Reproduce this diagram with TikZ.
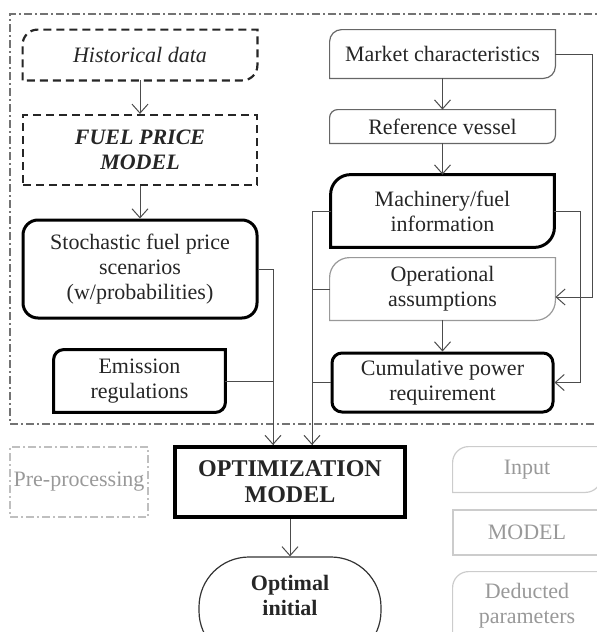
\documentclass[tikz,border=0pt]{standalone}
\usepackage{fontspec}
\setmainfont{Liberation Serif}
\usetikzlibrary{arrows.meta}
\newcommand{\boxfont}{\fontsize{11}{12.5}\selectfont}
\newcommand{\roundtlbr}[3]{\draw[#3] (#1.south west) -- ([yshift=-#2]#1.north west) arc[start angle=180,end angle=90,radius=#2] -- (#1.north east) -- ([yshift=#2]#1.south east) arc[start angle=0,end angle=-90,radius=#2] -- cycle;}
\tikzset{
  box/.style={align=center, inner sep=0pt, text=black!85, font=\boxfont},
  thinline/.style={draw=black!60, line width=0.6pt},
  lightline/.style={draw=black!40, line width=0.6pt},
  thickline/.style={draw=black, line width=1.5pt},
  dashbox/.style={draw=black!85, line width=1.1pt, dash pattern=on 4pt off 2.5pt},
  legend/.style={draw=black!20, line width=0.6pt},
  outer/.style={draw=black!55, line width=0.6pt, dash pattern=on 4pt off 1.5pt on 1pt off 1.5pt},
  line/.style={draw=black!70, line width=0.5pt},
  arr/.style={line, -{Straight Barb[length=4.5pt,width=8pt]}}
}
\begin{document}
\begin{tikzpicture}[x=0.5pt,y=-0.5pt]
\useasboundingbox (0,0) rectangle (597,632);
\draw[outer] (640,14) -- (10,14) -- (10,424) -- (640,424);

\node[box, minimum width=117pt, minimum height=25pt, font=\boxfont\itshape] at (140,55) (hist) {Historical data};
\roundtlbr{hist}{7.5pt}{dashbox}
\node[box, dashbox, minimum width=117pt, minimum height=35pt, font=\boxfont\bfseries\itshape] at (140,150) (fpm) {FUEL PRICE\\MODEL};
\node[box, thickline, rounded corners=7.5pt, minimum width=117pt, minimum height=49pt] at (140,269) (stoch) {Stochastic fuel price\\scenarios\\(w/probabilities)};
\node[box, minimum width=85.5pt, minimum height=31pt] at (139.5,381) (emis) {Emission\\regulations};
\roundtlbr{emis}{5pt}{thickline}

\node[box, minimum width=112.5pt, minimum height=24pt] at (442.5,54) (market) {Market characteristics};
\roundtlbr{market}{6pt}{thinline}
\node[box, minimum width=112.5pt, minimum height=16.5pt] at (442.5,126.5) (refv) {Reference vessel};
\roundtlbr{refv}{4pt}{thinline}
\node[box, minimum width=111.5pt, minimum height=36pt] at (442.5,211) (mach) {Machinery/fuel\\information};
\roundtlbr{mach}{10pt}{thickline}
\node[box, minimum width=112.5pt, minimum height=31pt] at (442.5,289) (oper) {Operational\\assumptions};
\roundtlbr{oper}{10pt}{lightline}
\node[box, thickline, rounded corners=5pt, minimum width=110.5pt, minimum height=29.5pt] at (442.5,382.5) (cumul) {Cumulative power\\requirement};

\node[box, draw=black, line width=2pt, minimum width=115pt, minimum height=35pt, font=\fontsize{12}{13}\selectfont\bfseries] at (290,482) (opt) {OPTIMIZATION\\MODEL};
\node[box, draw=black!80, line width=0.6pt, rounded corners=25pt, minimum width=91pt, minimum height=52pt, text depth=14pt, font=\boxfont\bfseries] at (290,609) (optini) {Optimal\\initial};

\node[box, draw=black!25, line width=0.6pt, dash pattern=on 4pt off 1.5pt on 1pt off 1.5pt, text=black!40, minimum width=69pt, minimum height=35pt] at (79,482) (pre) {Pre-processing};
\node[box, text=black!40, minimum width=74pt, minimum height=22.5pt] at (527,469.5) (input) {Input};
\roundtlbr{input}{8pt}{legend}
\node[box, legend, text=black!40, minimum width=74pt, minimum height=22.5pt] at (527,532.5) (modl) {MODEL};
\node[box, text=black!40, minimum width=74pt, minimum height=34pt] at (527,606) (deduct) {Deducted\\parameters};
\roundtlbr{deduct}{8pt}{legend}

\draw[arr] (hist) -- (fpm);
\draw[arr] (fpm) -- (stoch);
\draw[line] (emis.east) -| ([xshift=-8.5pt]opt.north);
\draw[arr] (stoch.east) -| ([xshift=-8.5pt]opt.north);
\draw[line] (oper.west) -| ([xshift=11pt]opt.north);
\draw[line] (cumul.west) -| ([xshift=11pt]opt.north);
\draw[arr] (mach.west) -| ([xshift=11pt]opt.north);
\draw[arr] (market) -- (refv);
\draw[arr] (refv) -- (mach);
\draw[arr] (oper) -- (cumul);
\draw[arr] (market.east) -| ([xshift=18.5pt,yshift=-4pt]oper.east) -- ([yshift=-4pt]oper.east);
\draw[arr] (mach.east) -| ([xshift=13pt]cumul.east) -- (cumul.east);
\draw[arr] (opt) -- (optini);
\end{tikzpicture}
\end{document}
